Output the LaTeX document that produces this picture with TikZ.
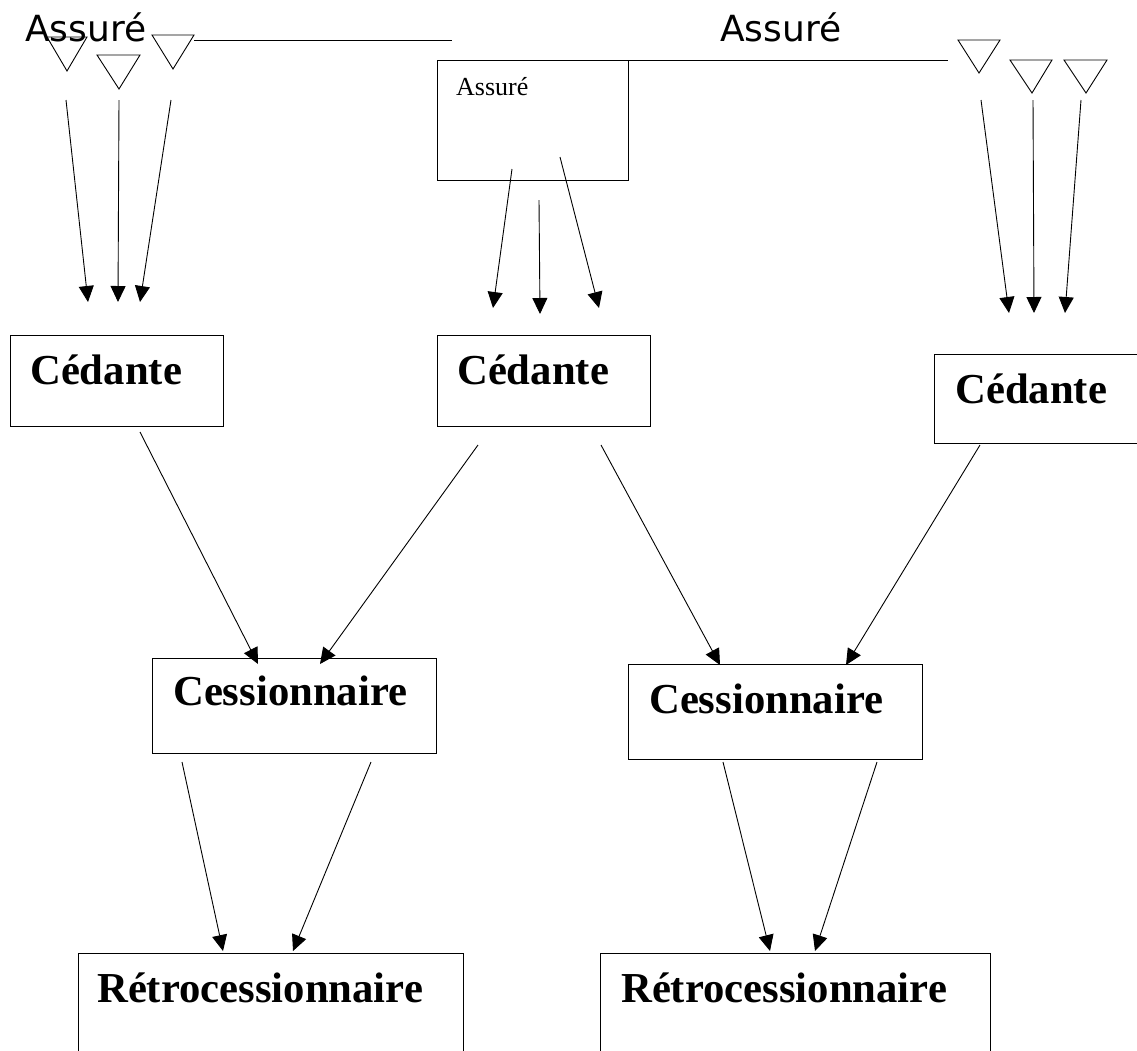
\documentclass[tikz,border=0pt]{standalone}
\usepackage{fontspec}
\setmainfont{Liberation Serif}
\newfontfamily\sansfont{DejaVu Sans}
\usetikzlibrary{arrows.meta}
\tikzset{
      boite/.style={draw=black, line width=0.9, inner sep=0, outer sep=0, anchor=north west},
      titre/.style={font=\bfseries\fontsize{42.7}{50}\selectfont, inner sep=0, anchor=base west},
      grand/.style={font=\sansfont\fontsize{36}{42}\selectfont, inner sep=0, anchor=base west},
      petit/.style={font=\fontsize{26}{30}\selectfont, inner sep=0, anchor=base west},
      trait/.style={draw=black, line width=0.9},
      fleche/.style={draw=black, line width=0.9, -{Triangle[length=16pt,width=15pt]}},
}
\begin{document}
\begin{tikzpicture}[x=1pt, y=-1pt]

        \useasboundingbox (0,0) rectangle (1137,1050);

        % assures
        \node[grand] (as1) at (25,41) {Assuré};
        \node[grand] (as2) at (720,41) {Assuré};
        \node[boite, minimum width=191pt, minimum height=120pt] (as3) at (437,60) {};
        \node[petit] (as3txt) at (456,95) {Assuré};

        \draw[trait] (47,37) -- (87,37) -- (67,71) -- cycle;
        \draw[trait] (97,55) -- (140,55) -- (119,89) -- cycle;
        \draw[trait] (152,35) -- (194,35) -- (173,69) -- cycle;
        \draw[trait] (194,40) -- (452,40);
        \draw[trait] (as3.north east) -- (948,60);
        \draw[trait] (958,40) -- (1000,40) -- (979,73) -- cycle;
        \draw[trait] (1010,60) -- (1052,60) -- (1032,93) -- cycle;
        \draw[trait] (1064,60) -- (1107,60) -- (1086,93) -- cycle;

        % cedantes
        \node[boite, minimum width=213pt, minimum height=91pt] (ced1) at (10,335) {};
        \node[titre] (ced1txt) at (30,384) {Cédante};
        \node[boite, minimum width=213pt, minimum height=91pt] (ced2) at (437,335) {};
        \node[titre] (ced2txt) at (457,384) {Cédante};
        \node[boite, minimum width=230pt, minimum height=89pt] (ced3) at (934,354) {};
        \node[titre] (ced3txt) at (955,403) {Cédante};

        % cessionnaires
        \node[boite, minimum width=284pt, minimum height=95pt] (ces1) at (152,658) {};
        \node[titre] (ces1txt) at (173,705) {Cessionnaire};
        \node[boite, minimum width=294pt, minimum height=95pt] (ces2) at (628,664) {};
        \node[titre] (ces2txt) at (649,713) {Cessionnaire};

        % retrocessionnaires
        \node[boite, minimum width=385pt, minimum height=120pt] (ret1) at (78,953) {};
        \node[titre] (ret1txt) at (97,1002) {Rétrocessionnaire};
        \node[boite, minimum width=390pt, minimum height=120pt] (ret2) at (600,953) {};
        \node[titre] (ret2txt) at (621,1002) {Rétrocessionnaire};

        % points des fleches
        \coordinate (g1) at (66,100);   \coordinate (g1f) at (88,302);
        \coordinate (g2) at (119,100);  \coordinate (g2f) at (118,302);
        \coordinate (g3) at (171,100);  \coordinate (g3f) at (140,302);
        \coordinate (m1) at (512,169);  \coordinate (m1f) at (493,308);
        \coordinate (m2) at (539,200);  \coordinate (m2f) at (540,314);
        \coordinate (m3) at (560,157);  \coordinate (m3f) at (599,308);
        \coordinate (d1) at (981,100);  \coordinate (d1f) at (1009,313);
        \coordinate (d2) at (1033,100); \coordinate (d2f) at (1034,313);
        \coordinate (d3) at (1081,100); \coordinate (d3f) at (1065,313);

        \coordinate (c1) at (140,432);  \coordinate (c1f) at (258,664);
        \coordinate (c2) at (478,445);  \coordinate (c2f) at (320,664);
        \coordinate (c3) at (601,445);  \coordinate (c3f) at (720,665);
        \coordinate (c4) at (980,445);  \coordinate (c4f) at (846,665);

        \coordinate (r1) at (182,762);  \coordinate (r1f) at (223,951);
        \coordinate (r2) at (371,762);  \coordinate (r2f) at (293,951);
        \coordinate (r3) at (723,762);  \coordinate (r3f) at (770,951);
        \coordinate (r4) at (877,762);  \coordinate (r4f) at (815,951);

        \draw[fleche] (g1) -- (g1f);
        \draw[fleche] (g2) -- (g2f);
        \draw[fleche] (g3) -- (g3f);
        \draw[fleche] (m1) -- (m1f);
        \draw[fleche] (m2) -- (m2f);
        \draw[fleche] (m3) -- (m3f);
        \draw[fleche] (d1) -- (d1f);
        \draw[fleche] (d2) -- (d2f);
        \draw[fleche] (d3) -- (d3f);

        \draw[fleche] (c1) -- (c1f);
        \draw[fleche] (c2) -- (c2f);
        \draw[fleche] (c3) -- (c3f);
        \draw[fleche] (c4) -- (c4f);

        \draw[fleche] (r1) -- (r1f);
        \draw[fleche] (r2) -- (r2f);
        \draw[fleche] (r3) -- (r3f);
        \draw[fleche] (r4) -- (r4f);

    \end{tikzpicture}
\end{document}
